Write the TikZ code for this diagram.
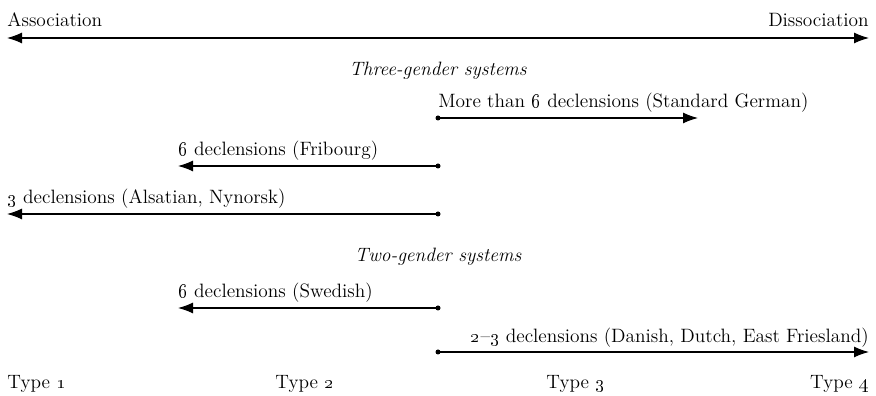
\documentclass[tikz,border=0pt]{standalone}
\usepackage{tikz}
\usetikzlibrary{arrows.meta}
\usepackage{xcolor}

\tikzset{
  scalearrow/.style={line width=0.65pt, -{Latex[length=3mm,width=2.2mm]}},
  dotend/.style={circle, fill, inner sep=0pt, minimum size=1.0mm},
  lbl/.style={inner sep=0pt, anchor=base west},
}

\begin{document}
\begin{tikzpicture}[font=\fontsize{11pt}{13pt}\selectfont]
      % Variables
      \def \leftx  {0.14}
      \def \midx   {8.76}
      \def \rightx {17.38}
      \def \shortx {3.56}
      \def \germx  {13.96}

      \useasboundingbox (0,0) rectangle (17.52,7.92);

      % Scale
      \coordinate (assoc) at (\leftx,7.16);
      \coordinate (dissoc) at (\rightx,7.16);
      \draw [line width=0.65pt,{Latex[length=3mm,width=2.2mm]}-{Latex[length=3mm,width=2.2mm]}] (assoc) -- (dissoc);
      \node[lbl] (assoctxt) at (\leftx,7.38) {Association};
      \node[lbl, anchor=base east] (dissoctxt) at (\rightx,7.38) {Dissociation};

      % Three-gender systems
      \node[inner sep=0pt, anchor=base] (three) at (\midx,6.4) {\itshape Three-gender systems};

      \node[dotend] (germs) at (\midx,5.56) {};
      \coordinate (germe) at (\germx,5.56);
      \draw [scalearrow] (germs.center) -- (germe);
      \node[lbl] (germtxt) at (\midx,5.76) {More than \oldstylenums{6} declensions (Standard German)};

      \node[dotend] (fribs) at (\midx,4.6) {};
      \coordinate (fribe) at (\shortx,4.6);
      \draw [scalearrow] (fribs.center) -- (fribe);
      \node[lbl] (fribtxt) at (\shortx,4.8) {\oldstylenums{6} declensions (Fribourg)};

      \node[dotend] (alss) at (\midx,3.64) {};
      \coordinate (alse) at (\leftx,3.64);
      \draw [scalearrow] (alss.center) -- (alse);
      \node[lbl] (alstxt) at (\leftx,3.84) {\oldstylenums{3} declensions (Alsatian, Nynorsk)};

      % Two-gender systems
      \node[inner sep=0pt, anchor=base] (two) at (\midx,2.68) {\itshape Two-gender systems};

      \node[dotend] (swes) at (\midx,1.76) {};
      \coordinate (swee) at (\shortx,1.76);
      \draw [scalearrow] (swes.center) -- (swee);
      \node[lbl] (swetxt) at (\shortx,1.96) {\oldstylenums{6} declensions (Swedish)};

      \node[dotend] (dans) at (\midx,0.88) {};
      \coordinate (dane) at (\rightx,0.88);
      \draw [scalearrow] (dans.center) -- (dane);
      \node[lbl, anchor=base east] (dantxt) at (\rightx,1.06) {\oldstylenums{2}--\oldstylenums{3} declensions (Danish, Dutch, East Friesland)};

      % Types
      \node[lbl] (type1) at (\leftx,0.14) {Type \oldstylenums{1}};
      \node[lbl] (type2) at (5.5,0.14) {Type \oldstylenums{2}};
      \node[lbl] (type3) at (10.92,0.14) {Type \oldstylenums{3}};
      \node[lbl, anchor=base east] (type4) at (\rightx,0.14) {Type \oldstylenums{4}};

    \end{tikzpicture}
\end{document}
